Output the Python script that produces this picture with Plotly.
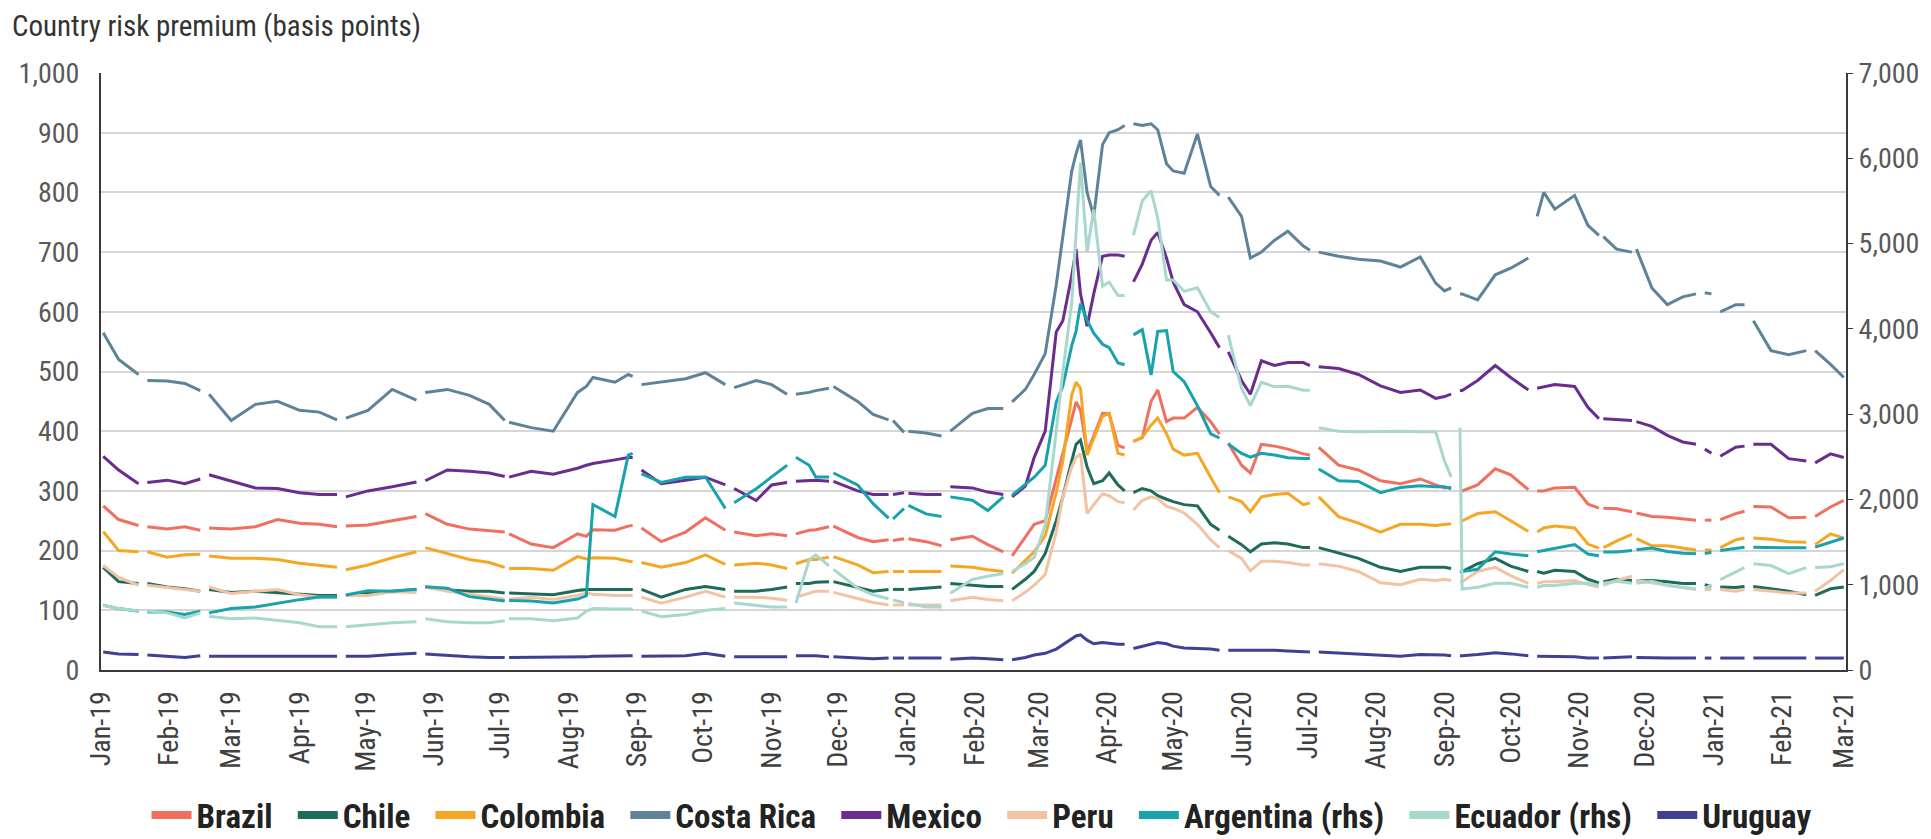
import pandas as pd
import plotly.graph_objects as go

FONT = "Liberation Sans Narrow, Arial Narrow, Roboto Condensed, DejaVu Sans Condensed, sans-serif"

# the page adds an 8px body margin, so the figure is drawn 8px smaller
PAGE_OFFSET = 8
FIG_W = 1931 - PAGE_OFFSET
FIG_H = 839 - PAGE_OFFSET
MARGIN = {"l": 93, "r": 85, "t": 65, "b": 169}
PLOT_W = FIG_W - MARGIN["l"] - MARGIN["r"]

# trading dates that are plotted (grouped in the same blocks as the series below)
DATES = [
    "2019-01-02", "2019-01-09", "2019-01-18", "2019-01-22", "2019-01-31", "2019-02-08", "2019-02-15", "2019-02-19",
    "2019-03-01", "2019-03-12", "2019-03-22", "2019-04-01", "2019-04-10", "2019-04-18", "2019-04-22", "2019-05-02",
    "2019-05-13", "2019-05-24", "2019-05-28",
    "2019-06-07", "2019-06-17", "2019-06-26", "2019-07-03", "2019-07-05", "2019-07-15", "2019-07-25", "2019-08-05",
    "2019-08-09", "2019-08-12", "2019-08-22", "2019-08-28", "2019-08-30",
    "2019-09-03", "2019-09-12", "2019-09-23", "2019-10-02", "2019-10-11", "2019-10-15", "2019-10-25", "2019-11-01",
    "2019-11-08", "2019-11-12", "2019-11-18", "2019-11-21", "2019-11-27", "2019-11-29", "2019-12-10", "2019-12-17",
    "2019-12-24", "2019-12-26", "2019-12-31",
    "2020-01-02", "2020-01-10", "2020-01-17", "2020-01-21", "2020-01-31", "2020-02-07", "2020-02-14", "2020-02-18",
    "2020-02-24", "2020-02-28",
    "2020-03-04", "2020-03-09", "2020-03-12", "2020-03-16", "2020-03-18", "2020-03-20", "2020-03-23", "2020-03-26",
    "2020-03-30", "2020-04-02", "2020-04-06", "2020-04-09",
    "2020-04-13", "2020-04-17", "2020-04-21", "2020-04-24", "2020-04-28", "2020-05-01", "2020-05-06", "2020-05-12",
    "2020-05-18", "2020-05-22", "2020-05-26",
    "2020-06-01", "2020-06-05", "2020-06-10", "2020-06-16", "2020-06-22", "2020-06-29", "2020-07-02", "2020-07-06",
    "2020-07-15", "2020-07-24", "2020-08-03", "2020-08-12", "2020-08-21",
    "2020-08-28", "2020-09-01", "2020-09-04", "2020-09-08", "2020-09-09", "2020-09-16", "2020-09-24", "2020-10-01",
    "2020-10-09", "2020-10-13", "2020-10-16", "2020-10-21", "2020-10-30",
    "2020-11-05", "2020-11-10", "2020-11-12", "2020-11-18", "2020-11-25", "2020-11-27", "2020-12-04", "2020-12-11",
    "2020-12-18", "2020-12-24", "2020-12-28", "2020-12-31",
    "2021-01-04", "2021-01-11", "2021-01-15", "2021-01-19", "2021-01-27", "2021-02-04", "2021-02-12", "2021-02-16",
    "2021-02-23", "2021-03-01",
]

# market holidays with no quote -> breaks in every line
GAP_DATES = [
    "2019-01-21", "2019-02-18", "2019-04-19", "2019-05-27", "2019-07-04", "2019-09-02", "2019-10-14",
    "2019-11-11", "2019-11-28", "2019-12-25", "2020-01-01", "2020-01-20", "2020-02-17", "2020-04-10",
    "2020-05-25", "2020-07-03", "2020-09-07", "2020-10-12", "2020-11-11", "2020-11-26", "2020-12-25",
    "2021-01-01", "2021-01-18", "2021-02-15",
]

brazil = [
    275, 252, 242, 240, 236, 240, 234, 238,
    236, 240, 252, 246, 244, 240, 241, 243, 250, 257, 262,
    244, 236, 233, 231, 228, 211, 205, 228, 224, 235, 234, 241, 242,
    238, 215, 231, 255, 234, 231, 225, 228, 225, 228, 234, 235, 240, 241, 222, 215, 218, 217, 220,
    220, 215, 208, 218, 224, 210, 198, 191, 224, 244,
    250, 323, 363, 420, 449, 435, 365, 392, 430, 429, 376, 372,
    383, 389, 450, 469, 416, 422, 422, 440, 416, 395, 380,
    343, 330, 378, 375, 370, 362, 360, 373, 343, 335, 317, 312, 320,
    310, 305, 306, 300, 300, 310, 337, 327, 302, 300, 300, 305, 306,
    278, 271, 271, 270, 265, 263, 257, 256, 253, 251, 251, 251,
    252, 262, 266, 274, 273, 255, 256, 257, 273, 284,
]
chile = [
    172, 148, 145, 145, 139, 136, 132, 135,
    130, 132, 130, 128, 125, 125, 125, 129, 132, 135, 139,
    134, 132, 132, 129, 129, 128, 126, 133, 135, 135, 135, 135, 135,
    135, 122, 135, 140, 135, 132, 132, 135, 139, 145, 145, 147, 148, 148, 138, 132, 135, 135, 135,
    135, 137, 139, 145, 142, 140, 140, 135, 152, 165,
    195, 250, 290, 350, 378, 385, 340, 312, 317, 330, 310, 300,
    297, 304, 300, 292, 286, 282, 277, 275, 244, 234, 224,
    210, 198, 211, 213, 211, 205, 205, 205, 196, 187, 172, 165, 172,
    172, 172, 170, 165, 165, 178, 187, 174, 165, 165, 162, 167, 165,
    152, 146, 148, 152, 150, 149, 150, 148, 145, 145, 143, 140,
    139, 138, 140, 140, 136, 132, 126, 125, 136, 139,
]
colombia = [
    232, 200, 198, 198, 189, 193, 194, 191,
    187, 187, 185, 179, 175, 172, 168, 176, 188, 198, 205,
    195, 185, 180, 172, 170, 170, 167, 190, 186, 188, 187, 183, 181,
    180, 172, 180, 193, 177, 176, 179, 176, 170, 178, 185, 185, 189, 190, 176, 163, 165, 165, 165,
    165, 165, 165, 174, 172, 168, 165, 162, 183, 198,
    225, 297, 350, 460, 482, 472, 360, 389, 425, 430, 363, 360,
    383, 390, 410, 422, 396, 370, 360, 363, 323, 297, 290,
    282, 265, 290, 294, 296, 277, 280, 290, 257, 246, 231, 244, 244,
    242, 243, 245, 250, 250, 262, 265, 250, 232, 231, 238, 241, 238,
    211, 204, 205, 216, 227, 220, 208, 208, 204, 201, 201, 201,
    205, 218, 221, 221, 219, 215, 214, 210, 228, 221,
]
costa_rica = [
    565, 520, 495, 485, 484, 480, 468, 462,
    418, 445, 450, 435, 432, 419, 422, 435, 470, 452, 465,
    470, 460, 445, 418, 415, 406, 400, 465, 475, 490, 482, 495, 492,
    478, 482, 488, 498, 478, 473, 485, 478, 462, 462, 465, 468, 472, 475, 450, 428, 419, 418, 398,
    400, 397, 392, 400, 430, 438, 438, 449, 470, 495,
    530, 645, 725, 835, 865, 888, 800, 760, 880, 900, 905, 912,
    915, 912, 915, 905, 848, 836, 832, 898, 810, 795, 792,
    760, 690, 700, 720, 735, 710, 703, 700, 693, 688, 685, 675, 692,
    648, 635, 640, 630, 630, 620, 662, 673, 690, 760, 800, 772, 795,
    745, 728, 726, 705, 700, 705, 640, 612, 625, 630, 632, 630,
    600, 612, 612, 585, 535, 528, 535, 535, 512, 490,
]
mexico = [
    358, 335, 312, 314, 318, 312, 320, 327,
    317, 305, 304, 297, 294, 294, 290, 300, 307, 315, 317,
    335, 333, 330, 324, 323, 333, 328, 338, 343, 346, 352, 356, 356,
    335, 312, 318, 323, 310, 304, 284, 310, 314, 316, 318, 318, 316, 316, 300, 294, 294, 294, 297,
    296, 294, 294, 307, 305, 298, 294, 290, 308, 356,
    400, 566, 585, 660, 705, 630, 576, 630, 693, 695, 695, 693,
    650, 680, 720, 733, 690, 650, 612, 600, 565, 540, 533,
    485, 462, 518, 510, 515, 515, 510, 508, 505, 495, 476, 465, 469,
    455, 458, 462, 468, 468, 485, 510, 490, 469, 472, 474, 478, 475,
    440, 421, 421, 420, 418, 416, 408, 393, 382, 378, 370, 363,
    358, 373, 375, 378, 378, 354, 350, 347, 362, 356,
]
peru = [
    175, 155, 142, 142, 138, 135, 132, 139,
    128, 132, 135, 126, 122, 122, 125, 125, 131, 130, 139,
    132, 127, 122, 119, 119, 122, 118, 125, 129, 127, 125, 125, 125,
    122, 112, 122, 132, 122, 122, 122, 120, 117, 122, 129, 132, 132, 130, 119, 113, 109, 109, 109,
    109, 109, 109, 116, 122, 118, 116, 116, 130, 142,
    160, 231, 290, 340, 356, 362, 262, 277, 295, 292, 282, 280,
    268, 284, 290, 287, 274, 271, 263, 244, 218, 205, 200,
    187, 166, 182, 182, 180, 176, 176, 178, 174, 165, 146, 143, 152,
    150, 152, 150, 148, 148, 165, 172, 158, 145, 145, 148, 148, 150,
    143, 139, 142, 150, 157, 150, 146, 142, 138, 135, 135, 135,
    135, 132, 135, 135, 132, 129, 129, 132, 150, 168,
]
argentina = [
    760, 720, 690, 680, 680, 650, 690, 670,
    720, 740, 785, 825, 855, 855, 880, 930, 924, 947, 975,
    960, 860, 832, 809, 815, 809, 785, 832, 870, 1940, 1800, 2520, 2540,
    2300, 2200, 2260, 2264, 1894, 1960, 2125, 2264, 2400, 2495, 2400, 2264, 2264, 2310, 2170, 1950, 1780, 1770, 1894,
    1930, 1830, 1800, 2030, 1990, 1870, 2030, 2050, 2170, 2260,
    2400, 3140, 3330, 3800, 3973, 4297, 4100, 3950, 3820, 3780, 3600, 3580,
    3930, 3990, 3460, 3970, 3980, 3500, 3380, 3100, 2770, 2720, 2650,
    2540, 2495, 2540, 2520, 2490, 2480, 2480, 2356, 2218, 2210, 2079, 2140, 2160,
    2150, 2150, 2125, 1160, 1155, 1180, 1386, 1360, 1340, 1386, 1400, 1432, 1470,
    1360, 1340, 1385, 1385, 1400, 1410, 1430, 1390, 1370, 1363, 1365, 1380,
    1400, 1430, 1440, 1440, 1432, 1432, 1432, 1440, 1500, 1548,
]
ecuador = [
    760, 720, 693, 693, 670, 610, 670, 630,
    600, 610, 578, 554, 508, 508, 508, 530, 554, 566, 600,
    566, 554, 554, 578, 600, 600, 578, 610, 690, 720, 716, 716, 716,
    690, 624, 650, 700, 720, 785, 762, 739, 739, 785, 1290, 1350, 1220, 1180, 960, 880, 835, 820, 790,
    780, 740, 739, 900, 1063, 1100, 1130, 1155, 1247, 1320,
    1700, 2800, 3500, 4300, 5080, 5950, 4900, 5400, 4500, 4550, 4390, 4390,
    5100, 5500, 5620, 5300, 4574, 4574, 4440, 4481, 4200, 4135, 3927,
    3300, 3100, 3373, 3320, 3326, 3280, 3280, 2841, 2800, 2795, 2800, 2800, 2795,
    2795, 2450, 2264, 2840, 950, 970, 1016, 1016, 970, 970, 990, 990, 1016,
    1016, 990, 1016, 1040, 1016, 1016, 1040, 990, 970, 950, 950, 1000,
    1060, 1150, 1200, 1247, 1225, 1130, 1201, 1201, 1210, 1247,
]
uruguay = [
    30, 27, 26, 25, 23, 21, 24, 23,
    23, 23, 23, 23, 23, 23, 23, 23, 26, 28, 27,
    24, 22, 21, 21, 21, 21, 21, 22, 22, 23, 24, 25, 24,
    23, 23, 24, 28, 23, 22, 22, 22, 22, 24, 24, 24, 22, 22, 20, 19, 20, 20, 20,
    20, 20, 20, 18, 20, 19, 17, 17, 21, 25,
    28, 35, 42, 52, 57, 59, 50, 44, 46, 45, 43, 43,
    36, 40, 43, 46, 44, 40, 37, 36, 35, 33, 33,
    33, 34, 33, 33, 32, 30, 30, 30, 28, 26, 24, 23, 26,
    26, 25, 24, 24, 24, 26, 29, 27, 24, 23, 23, 23, 22,
    20, 20, 20, 21, 22, 21, 20, 20, 20, 20, 20, 20,
    20, 20, 20, 20, 20, 20, 20, 20, 20, 20,
]

SERIES = [
    ("Brazil", brazil, "#F0705F", "y"),
    ("Chile", chile, "#1E6B5C", "y"),
    ("Colombia", colombia, "#F5A623", "y"),
    ("Costa Rica", costa_rica, "#5E8399", "y"),
    ("Mexico", mexico, "#6A2C8E", "y"),
    ("Peru", peru, "#F2C3A2", "y"),
    ("Argentina (rhs)", argentina, "#17A2AE", "y2"),
    ("Ecuador (rhs)", ecuador, "#A8D8CD", "y2"),
    ("Uruguay", uruguay, "#3F3F98", "y"),
]

df = pd.DataFrame({name: values for name, values, _, _ in SERIES}, index=pd.to_datetime(DATES))
gaps = pd.DataFrame(index=pd.to_datetime(GAP_DATES), columns=df.columns, dtype=float)
df = pd.concat([df, gaps]).sort_index()

fig = go.Figure()

for name, _, color, axis in SERIES:
    fig.add_trace(
        go.Scatter(
            x=df.index,
            y=df[name],
            mode="lines",
            name=name,
            yaxis=axis,
            line={"color": color, "width": 3},
            showlegend=False,
        )
    )

# legend entries with the thick swatches of the original
# (trailing no-break spaces widen the gap between entries)
for name, _, color, axis in SERIES:
    fig.add_trace(
        go.Scatter(
            x=[None],
            y=[None],
            mode="lines",
            name=name + "\u00a0\u00a0",
            yaxis=axis,
            line={"color": color, "width": 8},
        )
    )

fig.update_layout(
    width=FIG_W,
    height=FIG_H,
    margin=MARGIN,
    paper_bgcolor="white",
    plot_bgcolor="white",
    font={"family": FONT, "color": "#404040"},
    title={
        "text": "Country risk premium (basis points)",
        "xref": "container",
        "x": 4 / FIG_W,
        "xanchor": "left",
        "yref": "container",
        "y": 1 - 18 / FIG_H,
        "yanchor": "middle",
        "font": {"family": FONT, "size": 29, "color": "#333333"},
    },
    legend={
        "orientation": "h",
        "xref": "paper",
        "x": (989 - PAGE_OFFSET - MARGIN["l"]) / PLOT_W,
        "xanchor": "center",
        "yref": "container",
        "y": 1 - 807 / FIG_H,
        "yanchor": "middle",
        "font": {"family": FONT, "size": 33, "color": "#222222", "weight": "bold"},
        "itemwidth": 40,
        "tracegroupgap": 0,
    },
)

fig.update_xaxes(
    type="date",
    range=["2019-01-01", "2021-03-02"],
    tick0="2019-01-01",
    dtick="M1",
    tickformat="%b-%y",
    tickangle=-90,
    tickfont={"size": 28, "color": "#404040"},
    ticks="",
    ticklabelstandoff=8,
    showgrid=False,
    showline=True,
    linecolor="#3a3a3a",
    linewidth=2,
    zeroline=False,
)

fig.update_layout(
    yaxis={
        "range": [0, 1000],
        "dtick": 100,
        "tickformat": ",",
        "tickfont": {"size": 28, "color": "#595959"},
        "ticks": "",
        "ticklabelstandoff": 14,
        "showgrid": True,
        "gridcolor": "#d6d6d6",
        "gridwidth": 1.5,
        "showline": True,
        "linecolor": "#3a3a3a",
        "linewidth": 2,
        "zeroline": False,
    },
    yaxis2={
        "overlaying": "y",
        "side": "right",
        "range": [0, 7000],
        "dtick": 1000,
        "tickformat": ",",
        "tickfont": {"size": 28, "color": "#595959"},
        "ticks": "outside",
        "ticklen": 5,
        "tickcolor": "#3a3a3a",
        "showgrid": False,
        "showline": True,
        "linecolor": "#3a3a3a",
        "linewidth": 2,
        "zeroline": False,
    },
)

fig.write_html("out.html")
